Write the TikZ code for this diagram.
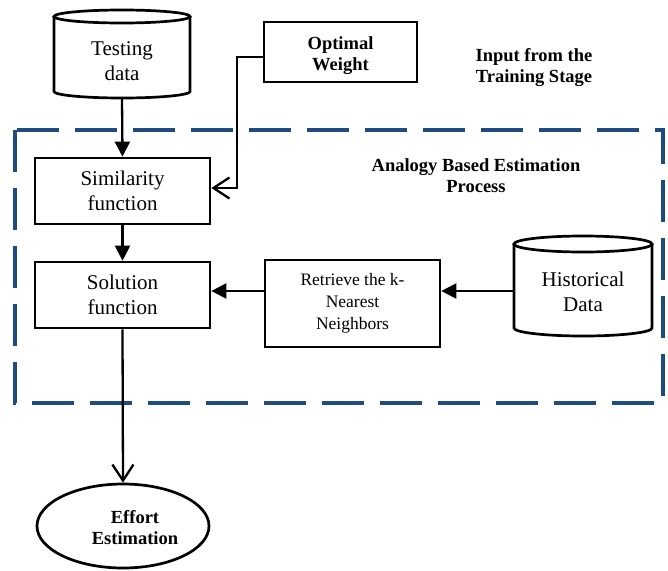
\documentclass[tikz,border=0pt]{standalone}
\usepackage{fontspec}
\setmainfont{Liberation Serif}
\usetikzlibrary{arrows.meta,shapes.geometric}
\definecolor{dashblue}{RGB}{30,76,128}
\tikzset{
  reg/.style={font=\fontsize{21}{24.5}\selectfont, align=center},
  regsmall/.style={font=\fontsize{17.5}{22}\selectfont, align=center},
  boldtxt/.style={font=\fontsize{18.5}{21}\selectfont\bfseries, align=center},
  procbox/.style={draw, line width=2.7pt, rectangle, inner sep=0pt},
  anchorbox/.style={rectangle, inner sep=0pt},
  shapeline/.style={line width=2.7pt},
  conn/.style={line width=2.3pt},
  filledtip/.style={conn, -{Triangle[length=15pt,width=15pt]}},
  barbtip/.style={conn, -{Straight Barb[length=16pt,width=21pt,line width=2.3pt]}},
  dashframe/.style={draw=dashblue, line width=4.2pt, dash pattern=on 42pt off 16pt}
}
\begin{document}
\begin{tikzpicture}[x=1pt,y=-1pt]
\useasboundingbox (0,0) rectangle (668,570);

% dashed process frame
\draw[dashframe] (15,130) rectangle (663,403);

% Testing data cylinder
\node[anchorbox, minimum width=136pt, minimum height=88pt] (test) at (122,54) {};
\draw[shapeline] (122,16.5) ellipse [x radius=68pt, y radius=6.5pt];
\draw[shapeline] (54,16.5) -- (54,91.5) arc[start angle=180, end angle=360, x radius=68pt, y radius=6.5pt] -- (190,16.5);
\node[reg] (testtxt) at (122,61) {Testing\\data};

% Optimal weight box
\node[procbox, minimum width=153pt, minimum height=60pt] (opt) at (340.5,52) {};
\node[boldtxt] (opttxt) at (340.5,56) {Optimal\\Weight};

% Input label
\node[boldtxt] (inlbl) at (534,68) {Input from the\\Training Stage};

% Process label
\node[boldtxt] (proclbl) at (476,176) {Analogy Based Estimation\\Process};

% Similarity function
\node[procbox, minimum width=175pt, minimum height=66pt, reg] (sim) at (122.5,191) {Similarity\\function};

% Solution function
\node[procbox, minimum width=175pt, minimum height=66pt, reg] (sol) at (122.5,295) {Solution\\function};

% Retrieve box
\node[procbox, minimum width=175pt, minimum height=87pt, regsmall] (ret) at (352.5,303.5) {Retrieve the k-\\Nearest\\Neighbors};

% Historical data cylinder
\node[anchorbox, minimum width=138pt, minimum height=100pt] (hist) at (583,286) {};
\draw[shapeline] (583,244) ellipse [x radius=69pt, y radius=8pt];
\draw[shapeline] (514,244) -- (514,328) arc[start angle=180, end angle=360, x radius=69pt, y radius=8pt] -- (652,244);
\node[reg] (histtxt) at (583,292) {Historical\\Data};

% Effort estimation ellipse
\node[ellipse, draw, line width=2.7pt, minimum width=172pt, minimum height=84pt, inner sep=0pt] (effort) at (123,526) {};
\node[boldtxt] (efftxt) at (135,528) {Effort\\Estimation};

% connectors
\coordinate (ay) at (0,291);
\coordinate (bend) at (237,188);
\coordinate (optout) at (264,57);
\draw[filledtip] (test.south) -- (sim.north);
\draw[barbtip] (optout) -| (bend) -- (bend -| sim.east);
\draw[filledtip] (sim.south) -- (sol.north);
\draw[filledtip] (hist.west |- ay) -- (ret.east |- ay);
\draw[filledtip] (ret.west |- ay) -- (sol.east |- ay);
\draw[barbtip] (sol.south) -- (effort.north);
\end{tikzpicture}
\end{document}
